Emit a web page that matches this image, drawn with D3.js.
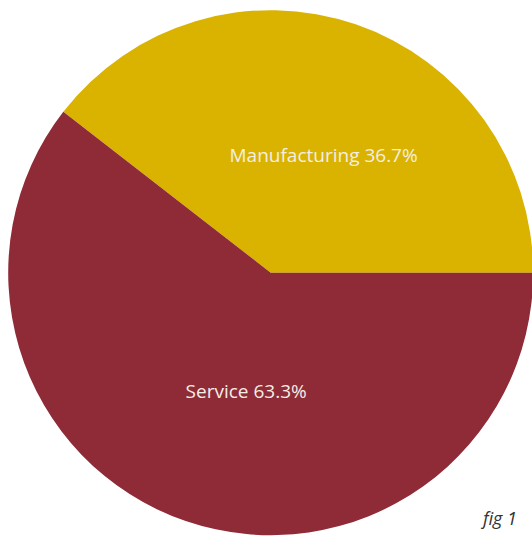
<!DOCTYPE html>
<html>
<head>
<meta charset="utf-8">
<script src="https://cdn.jsdelivr.net/npm/d3@7/dist/d3.min.js"></script>
<style>
html,body{margin:0;padding:0;background:#fff;}
svg{display:block;}
</style>
</head>
<body>
<svg id="chart" width="532" height="539"></svg>
<script>
// Data
const categories = ["Manufacturing", "Service"];
const shares = [39.5, 60.5];          // drawn slice sizes (as seen in picture)
const labelPercents = ["36.7%", "63.3%"]; // printed labels
const colors = ["#DAB300", "#8F2A37"];
const caption = "fig 1";

const svg = d3.select("#chart");
const cx = 270.7, cy = 272.7, R = 262.5;

const data = categories.map((c, i) => ({ cat: c, value: shares[i], label: labelPercents[i], color: colors[i] }));

// Manufacturing ends at 3 o'clock (d3 angle PI/2), going counterclockwise
const total = d3.sum(shares);
const startA = Math.PI / 2 - 2 * Math.PI * shares[0] / total;
const pie = d3.pie().value(d => d.value).sort(null)
  .startAngle(startA).endAngle(startA + 2 * Math.PI);
const arcs = pie(data);

const arc = d3.arc().innerRadius(0).outerRadius(R);
const g = svg.append("g").attr("transform", `translate(${cx},${cy})`);

g.selectAll("path").data(arcs).join("path")
  .attr("d", arc)
  .attr("fill", d => d.data.color);

// labels
const labelRadii = [134, 119];
const labelOffsets = [[9.5, 9], [14, 5.5]];
g.selectAll("text.lbl").data(arcs).join("text")
  .attr("class", "lbl")
  .attr("transform", (d, i) => {
    const la = d3.arc().innerRadius(labelRadii[i]).outerRadius(labelRadii[i]);
    const [x, y] = la.centroid(d);
    return `translate(${x + labelOffsets[i][0]},${y + labelOffsets[i][1]})`;
  })
  .attr("text-anchor", "middle")
  .attr("dominant-baseline", "central")
  .attr("fill", "#F3EEE6")
  .style("font-family", "'Open Sans', 'Noto Sans', sans-serif")
  .style("font-size", "19px")
  .text(d => `${d.data.cat} ${d.data.label}`);

svg.append("text")
  .attr("x", 517).attr("y", 525)
  .attr("text-anchor", "end")
  .attr("fill", "#333")
  .style("font-family", "'Open Sans', 'Noto Sans', sans-serif")
  .style("font-style", "italic")
  .style("font-size", "18px")
  .text(caption);
</script>
</body>
</html>
